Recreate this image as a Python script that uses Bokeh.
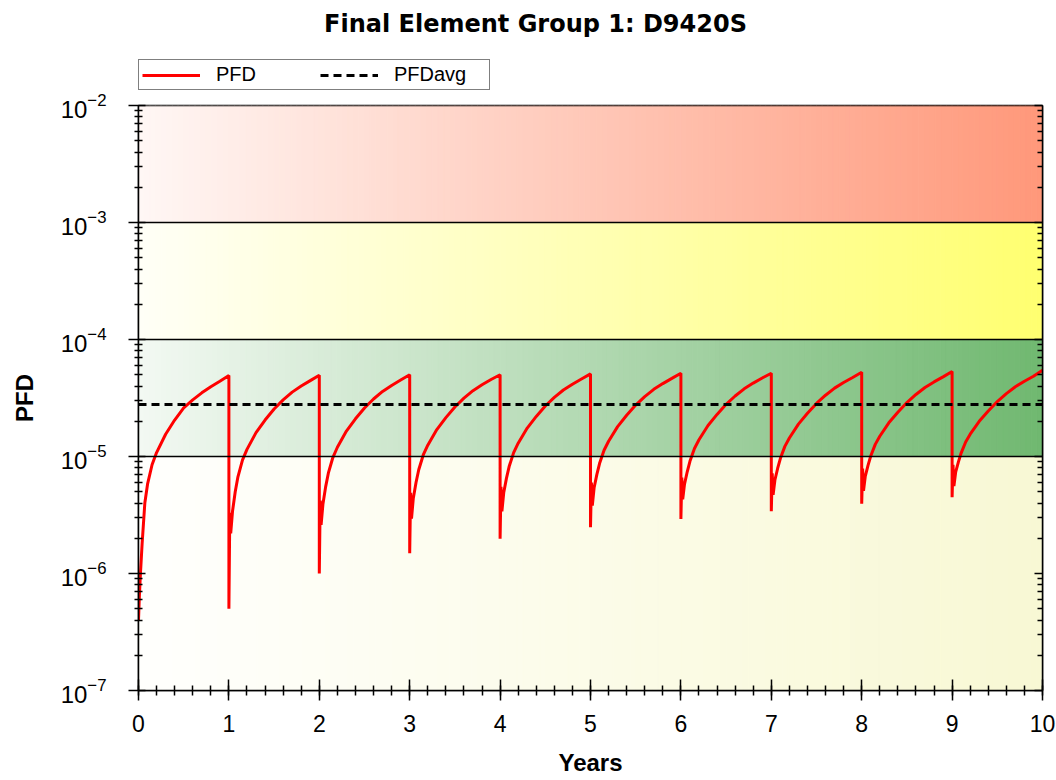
from bokeh.plotting import figure
from bokeh.layouts import column
from bokeh.models import (Range1d, LogAxis, FixedTicker, SingleIntervalTicker,
                          Span, Legend, LegendItem, CustomJSTickFormatter, Label)
from bokeh.embed import file_html
from bokeh.resources import INLINE

# ---------------- data ----------------
title_text = "Final Element Group 1: D9420S"
x_label = "Years"
y_label = "PFD"

# time offsets inside each one-year proof-test interval
cycle_offsets = [0.0, 0.01, 0.02, 0.04, 0.07, 0.1, 0.15, 0.2, 0.3, 0.4, 0.5, 0.6, 0.7, 0.8, 0.9, 1.0]
cycle_starts = [0, 1, 2, 3, 4, 5, 6, 7, 8, 9]

pfd_cycle_0 = [4.0e-7, 6.5e-7, 9.5e-7, 1.8e-6, 4.0e-6, 5.8e-6, 8.5e-6, 1.08e-5, 1.55e-5, 2.05e-5, 2.6e-5, 3.05e-5, 3.5e-5, 3.95e-5, 4.4e-5, 4.92e-5]
pfd_cycle_1 = [5.0e-7, 3.3e-6, 2.2e-6, 3.4e-6, 5.0e-6, 6.7e-6, 9.3e-6, 1.15e-5, 1.6e-5, 2.05e-5, 2.55e-5, 3.05e-5, 3.55e-5, 4.0e-5, 4.45e-5, 4.95e-5]
pfd_cycle_2 = [1.0e-6, 4.2e-6, 2.6e-6, 3.9e-6, 5.5e-6, 7.2e-6, 9.8e-6, 1.2e-5, 1.65e-5, 2.1e-5, 2.6e-5, 3.1e-5, 3.6e-5, 4.05e-5, 4.5e-5, 5.0e-5]
pfd_cycle_3 = [1.49e-6, 4.9e-6, 2.95e-6, 4.4e-6, 6.0e-6, 7.7e-6, 1.03e-5, 1.25e-5, 1.7e-5, 2.15e-5, 2.65e-5, 3.15e-5, 3.65e-5, 4.1e-5, 4.55e-5, 5.0e-5]
pfd_cycle_4 = [1.98e-6, 5.5e-6, 3.4e-6, 4.9e-6, 6.5e-6, 8.2e-6, 1.08e-5, 1.3e-5, 1.75e-5, 2.2e-5, 2.7e-5, 3.2e-5, 3.7e-5, 4.15e-5, 4.6e-5, 5.08e-5]
pfd_cycle_5 = [2.49e-6, 6.0e-6, 3.8e-6, 5.4e-6, 7.0e-6, 8.7e-6, 1.13e-5, 1.35e-5, 1.8e-5, 2.25e-5, 2.75e-5, 3.25e-5, 3.75e-5, 4.2e-5, 4.65e-5, 5.15e-5]
pfd_cycle_6 = [2.93e-6, 6.6e-6, 4.3e-6, 5.8e-6, 7.4e-6, 9.1e-6, 1.17e-5, 1.39e-5, 1.84e-5, 2.29e-5, 2.79e-5, 3.29e-5, 3.79e-5, 4.24e-5, 4.69e-5, 5.15e-5]
pfd_cycle_7 = [3.41e-6, 7.2e-6, 4.7e-6, 6.3e-6, 7.9e-6, 9.6e-6, 1.22e-5, 1.44e-5, 1.89e-5, 2.34e-5, 2.84e-5, 3.34e-5, 3.84e-5, 4.29e-5, 4.74e-5, 5.25e-5]
pfd_cycle_8 = [3.94e-6, 7.9e-6, 5.1e-6, 6.8e-6, 8.4e-6, 1.01e-5, 1.27e-5, 1.49e-5, 1.94e-5, 2.39e-5, 2.89e-5, 3.39e-5, 3.89e-5, 4.34e-5, 4.79e-5, 5.32e-5]
pfd_cycle_9 = [4.49e-6, 8.5e-6, 5.6e-6, 7.4e-6, 9.0e-6, 1.07e-5, 1.33e-5, 1.55e-5, 2.0e-5, 2.45e-5, 2.95e-5, 3.45e-5, 3.95e-5, 4.4e-5, 4.85e-5, 5.45e-5]
pfd_cycles = [pfd_cycle_0, pfd_cycle_1, pfd_cycle_2, pfd_cycle_3, pfd_cycle_4,
              pfd_cycle_5, pfd_cycle_6, pfd_cycle_7, pfd_cycle_8, pfd_cycle_9]

pfd_avg = 2.78e-5
avg_years = [0, 10]

# zone limits (SIL bands)
band_bottoms = [1e-3, 1e-4, 1e-5, 1e-7]
band_tops = [1e-2, 1e-3, 1e-4, 1e-5]
band_lines = [1e-2, 1e-3, 1e-4, 1e-5]

y_major = [1e-7, 1e-6, 1e-5, 1e-4, 1e-3, 1e-2]
y_minor = [m * d for d in [1e-7, 1e-6, 1e-5, 1e-4, 1e-3] for m in [2, 3, 4, 5, 6, 7, 8, 9]]

# ---------------- style ----------------
band_colors = [((255, 247, 245), (255, 152, 122)),
               ((255, 255, 247), (255, 255, 112)),
               ((243, 249, 243), (112, 184, 112)),
               ((255, 255, 253), (248, 248, 212))]
N_STRIPS = 160
FONT = "Liberation Sans"
FRAME_W = 904
FRAME_H = 585
TOP_H = 90
LEFT = 138
RED = "#FF0000"
PFD_STYLE = dict(line_color=RED, line_width=3)
AVG_STYLE = dict(line_color="black", line_width=3, line_dash="8 5")

# ---------------- header strip: title + legend ----------------
# (its frame is aligned with the chart frame by the column layout)
top = figure(width=1056, height=TOP_H, x_range=Range1d(0, 10), y_range=Range1d(1, 2),
             output_backend="svg", toolbar_location=None, x_axis_location=None,
             y_axis_location=None, min_border=0)
top.title.text = ""
top.grid.visible = False
top.outline_line_color = None
top.background_fill_color = "white"
top.border_fill_color = "white"
# legend proxies: same data as the chart, outside this strip's visible y range
lg_pfd = top.line(x=avg_years, y=[pfd_avg] * len(avg_years), **PFD_STYLE)
lg_avg = top.line(x=avg_years, y=[pfd_avg] * len(avg_years), **AVG_STYLE)

legend = Legend(items=[LegendItem(label="PFD", renderers=[lg_pfd]),
                       LegendItem(label="PFDavg", renderers=[lg_avg])],
                orientation="horizontal", location=(0, 0), margin=0, padding=3,
                spacing=12, glyph_width=58, glyph_height=16, label_standoff=16,
                label_width=92, label_text_font=FONT, label_text_font_size="20px",
                label_text_color="black", border_line_color="black",
                border_line_width=1.5, background_fill_color="white",
                background_fill_alpha=1.0)
top.add_layout(legend)
top.add_layout(Label(x=535 - LEFT, y=TOP_H - 23, x_units="screen", y_units="screen",
                     text=title_text, text_align="center", text_baseline="middle",
                     text_font="DejaVu Sans", text_font_style="bold",
                     text_font_size="24px", text_color="black"))

# ---------------- main chart ----------------
p = figure(frame_width=FRAME_W, frame_height=FRAME_H, x_range=Range1d(0, 10),
           y_range=Range1d(1e-7, 1e-2), y_axis_type="log", output_backend="svg",
           toolbar_location=None, min_border_left=LEFT, min_border_right=14,
           min_border_top=105 - TOP_H, min_border_bottom=0)
p.title.text = ""
p.background_fill_color = "white"
p.border_fill_color = "white"
p.grid.visible = False
p.outline_line_color = "black"
p.outline_line_width = 1.5

# gradient bands built from vertical strips
x0, x1 = p.x_range.start, p.x_range.end
w = (x1 - x0) / N_STRIPS
for (bot, topv, (c0, c1)) in zip(band_bottoms, band_tops, band_colors):
    lefts, rights, cols = [], [], []
    for i in range(N_STRIPS):
        f = (i + 0.5) / N_STRIPS
        c = tuple(int(round(a + (b - a) * f)) for a, b in zip(c0, c1))
        lefts.append(x0 + i * w)
        rights.append(x0 + (i + 1) * w)
        cols.append("#%02x%02x%02x" % c)
    p.quad(left=lefts, right=rights, bottom=[bot] * N_STRIPS, top=[topv] * N_STRIPS,
           fill_color=cols, line_color=cols, line_width=1)

for v in band_lines:
    p.add_layout(Span(location=v, dimension="width", line_color="black", line_width=1.5))

# PFD saw-tooth
pfd_x, pfd_y = [], []
for start, vals in zip(cycle_starts, pfd_cycles):
    for off, v in zip(cycle_offsets, vals):
        pfd_x.append(start + off)
        pfd_y.append(v)

p.line(pfd_x, pfd_y, **PFD_STYLE)
p.line(avg_years, [pfd_avg] * len(avg_years), **AVG_STYLE)

# axes
xa = p.xaxis[0]
xa.ticker = SingleIntervalTicker(interval=1, num_minor_ticks=5)
xa.axis_label = x_label
xa.axis_line_color = "black"
xa.axis_line_width = 1.5
xa.major_tick_in = 11
xa.major_tick_out = 10
xa.minor_tick_in = 5
xa.minor_tick_out = 5
xa.major_tick_line_width = 1.5
xa.minor_tick_line_width = 1.5
xa.major_label_standoff = 14
xa.major_label_text_font = FONT
xa.major_label_text_font_size = "23px"
xa.major_label_text_color = "black"
xa.axis_label_text_font = FONT
xa.axis_label_text_font_size = "24px"
xa.axis_label_text_font_style = "bold"
xa.axis_label_text_color = "black"
xa.axis_label_standoff = 14

ya = p.yaxis[0]
ya.ticker = FixedTicker(ticks=y_major, minor_ticks=y_minor)
ya.axis_label = y_label
ya.axis_line_color = "black"
ya.axis_line_width = 1.5
ya.major_tick_in = 7
ya.major_tick_out = 10
ya.minor_tick_in = 4
ya.minor_tick_out = 4
ya.major_tick_line_width = 1.5
ya.minor_tick_line_width = 1.5
ya.major_label_standoff = 22
ya.major_label_text_font = FONT
ya.major_label_text_font_size = "24px"
ya.major_label_text_color = "black"
ya.axis_label_text_font = FONT
ya.axis_label_text_font_size = "24px"
ya.axis_label_text_font_style = "bold"
ya.axis_label_text_color = "black"
ya.axis_label_standoff = 20

ra = LogAxis(ticker=FixedTicker(ticks=y_major, minor_ticks=y_minor),
             formatter=CustomJSTickFormatter(code="return ''"))
ra.axis_line_color = "black"
ra.axis_line_width = 1.5
ra.major_tick_in = 8
ra.major_tick_out = 0
ra.minor_tick_in = 5
ra.minor_tick_out = 0
ra.minor_tick_line_width = 1.5
ra.major_tick_line_width = 1.5
ra.major_label_standoff = 0
p.add_layout(ra, "right")

layout = column(top, p, spacing=0)
open("out.html", "w").write(file_html(layout, INLINE))
